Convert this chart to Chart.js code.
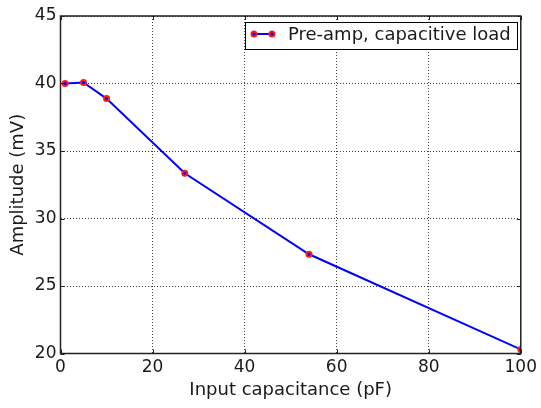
<!DOCTYPE html>
<html>
<head>
<meta charset="utf-8">
<script src="https://cdn.jsdelivr.net/npm/chart.js@4"></script>
<style>
  html, body { margin: 0; padding: 0; background: #fff; }
  #wrap { width: 541px; height: 408px; }
</style>
</head>
<body>
<div id="wrap"><canvas id="amp-chart" width="541" height="408"></canvas></div>
<script>
  const capacitance = [1, 5, 10, 27, 54, 100];
  const amplitude = [40.0, 40.07, 38.88, 33.35, 27.35, 20.3];
  const seriesLabel = "Pre-amp, capacitive load";
  const xTitle = "Input capacitance (pF)";
  const yTitle = "Amplitude (mV)";

  const FONT = "'DejaVu Sans', 'Liberation Sans', Arial, sans-serif";
  const LINE_BLUE = "#0000ff";
  const MARK_RED = "#ff1a1a";
  const TEXT = "#1a1a1a";

  // frame, inward tick marks and the boxed legend, matplotlib-style
  const framePlugin = {
    id: "frame",
    afterDraw(chart) {
      const { ctx, chartArea: a, scales } = chart;
      ctx.save();
      ctx.strokeStyle = "#222";
      ctx.lineWidth = 1.5;
      ctx.strokeRect(a.left, a.top, a.right - a.left, a.bottom - a.top);

      ctx.lineWidth = 1;
      ctx.beginPath();
      scales.x.ticks.forEach((t) => {
        const px = Math.round(scales.x.getPixelForValue(t.value)) + 0.5;
        ctx.moveTo(px, a.bottom); ctx.lineTo(px, a.bottom - 4);
        ctx.moveTo(px, a.top); ctx.lineTo(px, a.top + 4);
      });
      scales.y.ticks.forEach((t) => {
        const py = Math.round(scales.y.getPixelForValue(t.value)) + 0.5;
        ctx.moveTo(a.left, py); ctx.lineTo(a.left + 4, py);
        ctx.moveTo(a.right, py); ctx.lineTo(a.right - 4, py);
      });
      ctx.stroke();

      // legend
      const ds = chart.data.datasets[0];
      ctx.font = "18px " + FONT;
      const tw = ctx.measureText(ds.label).width;
      const right = a.right - 4;
      const top = a.top + 5.5;
      const h = 27;
      const w = 9 + 18 + 16 + tw + 6;
      const left = right - w;
      ctx.fillStyle = "#fff";
      ctx.fillRect(left, top, w, h);
      ctx.strokeStyle = "#000";
      ctx.lineWidth = 1;
      ctx.strokeRect(Math.round(left) + 0.5, Math.round(top) + 0.5, Math.round(w), h);

      const cy = top + h / 2 - 1;
      const x0 = left + 9, x1 = left + 27;
      ctx.strokeStyle = ds.borderColor;
      ctx.lineWidth = ds.borderWidth;
      ctx.beginPath();
      ctx.moveTo(x0, cy); ctx.lineTo(x1, cy);
      ctx.stroke();
      [x0, x1].forEach((mx) => {
        ctx.beginPath();
        ctx.arc(mx, cy, ds.pointRadius, 0, Math.PI * 2);
        ctx.fillStyle = ds.pointBackgroundColor;
        ctx.fill();
        ctx.lineWidth = ds.pointBorderWidth;
        ctx.strokeStyle = ds.pointBorderColor;
        ctx.stroke();
      });

      ctx.fillStyle = TEXT;
      ctx.textBaseline = "middle";
      ctx.textAlign = "left";
      ctx.fillText(ds.label, left + 43, cy + 1);
      ctx.restore();
    },
  };

  const ctx = document.getElementById("amp-chart").getContext("2d");

  new Chart(ctx, {
    type: "line",
    data: {
      datasets: [
        {
          label: seriesLabel,
          data: capacitance.map((c, i) => ({ x: c, y: amplitude[i] })),
          borderColor: LINE_BLUE,
          borderWidth: 2,
          tension: 0,
          pointRadius: 2.5,
          pointBorderWidth: 2,
          pointBackgroundColor: LINE_BLUE,
          pointBorderColor: MARK_RED,
          clip: 0,
        },
      ],
    },
    options: {
      responsive: false,
      animation: false,
      events: [],
      layout: { padding: { top: 16, right: 19, left: 0, bottom: 0 } },
      plugins: {
        legend: { display: false },
        tooltip: { enabled: false },
      },
      scales: {
        x: {
          type: "linear",
          min: 0,
          max: 100,
          ticks: {
            stepSize: 20,
            padding: 4,
            color: TEXT,
            font: { family: FONT, size: 17 },
            maxRotation: 0,
          },
          grid: {
            color: "rgba(0,0,0,0.75)",
            lineWidth: 1,
            drawTicks: false,
          },
          border: { display: false, dash: [1, 2] },
          title: {
            display: true,
            text: xTitle,
            color: TEXT,
            font: { family: FONT, size: 18 },
            padding: { top: 7, bottom: 7 },
          },
          afterFit(scale) { scale.height = 54.5; },
        },
        y: {
          min: 20,
          max: 45,
          ticks: {
            stepSize: 5,
            padding: 4,
            color: TEXT,
            font: { family: FONT, size: 17 },
          },
          grid: {
            color: "rgba(0,0,0,0.75)",
            lineWidth: 1,
            drawTicks: false,
          },
          border: { display: false, dash: [1, 2] },
          title: {
            display: true,
            text: yTitle,
            color: TEXT,
            font: { family: FONT, size: 18 },
            padding: { top: 8, bottom: 8 },
          },
          afterFit(scale) { scale.width = 60.5; },
        },
      },
    },
    plugins: [framePlugin],
  });
</script>
</body>
</html>
